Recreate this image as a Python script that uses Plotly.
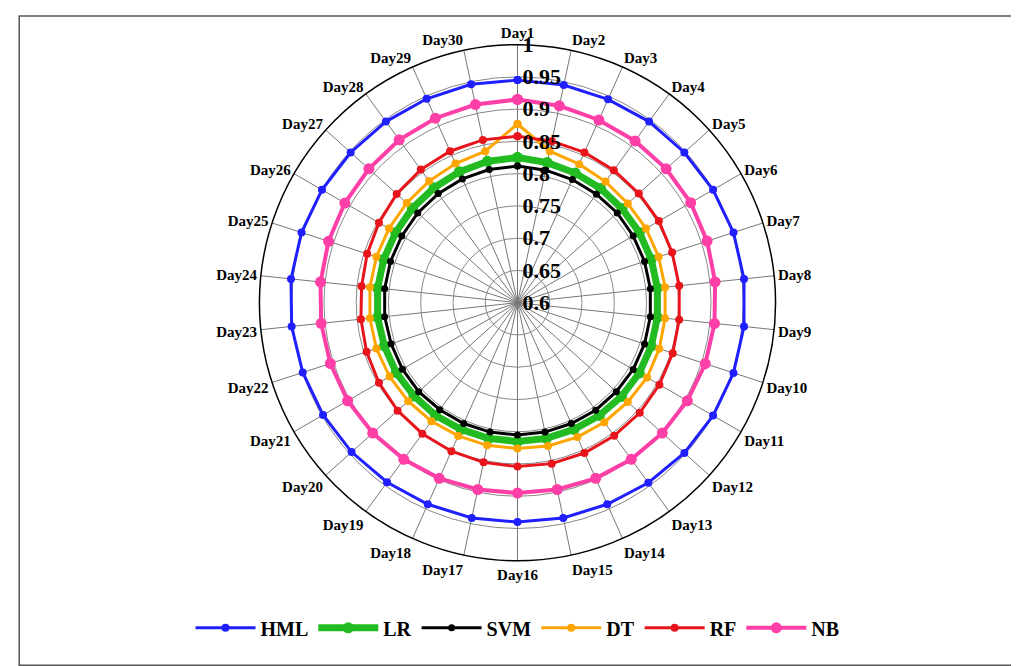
import plotly.graph_objects as go

days = ["Day%d" % i for i in range(1, 31)]

hml = [0.945, 0.945, 0.945, 0.947, 0.948, 0.950, 0.952, 0.953, 0.953, 0.952, 0.950, 0.948, 0.945, 0.942, 0.941, 0.940, 0.941, 0.942, 0.944, 0.946, 0.948, 0.950, 0.952, 0.953, 0.952, 0.950, 0.948, 0.947, 0.946, 0.946]
nb = [0.915, 0.912, 0.910, 0.910, 0.910, 0.910, 0.909, 0.908, 0.907, 0.906, 0.904, 0.902, 0.900, 0.898, 0.896, 0.895, 0.896, 0.898, 0.900, 0.902, 0.904, 0.905, 0.906, 0.907, 0.908, 0.909, 0.910, 0.912, 0.913, 0.914]
rf = [0.858, 0.856, 0.855, 0.854, 0.853, 0.853, 0.852, 0.852, 0.852, 0.853, 0.854, 0.855, 0.855, 0.855, 0.855, 0.854, 0.853, 0.852, 0.851, 0.850, 0.848, 0.846, 0.844, 0.843, 0.845, 0.848, 0.852, 0.855, 0.857, 0.858]
dt = [0.877, 0.840, 0.835, 0.832, 0.830, 0.830, 0.830, 0.830, 0.830, 0.831, 0.832, 0.830, 0.829, 0.828, 0.827, 0.826, 0.826, 0.826, 0.827, 0.828, 0.829, 0.830, 0.830, 0.830, 0.830, 0.830, 0.831, 0.833, 0.836, 0.840]
lr = [0.825, 0.822, 0.820, 0.819, 0.818, 0.818, 0.818, 0.818, 0.818, 0.818, 0.818, 0.817, 0.816, 0.815, 0.815, 0.815, 0.815, 0.815, 0.816, 0.816, 0.817, 0.817, 0.818, 0.818, 0.818, 0.818, 0.819, 0.820, 0.822, 0.824]
svm = [0.812, 0.810, 0.809, 0.808, 0.808, 0.807, 0.807, 0.807, 0.807, 0.807, 0.807, 0.806, 0.806, 0.805, 0.805, 0.805, 0.805, 0.805, 0.805, 0.806, 0.806, 0.806, 0.807, 0.807, 0.807, 0.807, 0.808, 0.809, 0.810, 0.811]
radial_ticks = [0.6, 0.65, 0.7, 0.75, 0.8, 0.85, 0.9, 0.95, 1.0]

series = [
    ("HML", hml, "#1f1fff", 3, 8),
    ("LR", lr, "#22bb22", 7, 11),
    ("SVM", svm, "black", 3, 7),
    ("DT", dt, "orange", 3, 8),
    ("RF", rf, "#e8141c", 3, 8),
    ("NB", nb, "#ff3fa8", 4, 11),
]

fig = go.Figure()
for name, vals, color, width, size in series:
    fig.add_trace(go.Scatterpolar(
        r=vals + vals[:1], theta=days + days[:1], mode="lines+markers", name="<b>%s</b>" % name,
        line=dict(color=color, width=width), marker=dict(color=color, size=size),
    ))

fig.update_layout(
    width=1019, height=666,
    margin=dict(l=0, r=0, t=0, b=0),
    paper_bgcolor="white",
    font=dict(family="Liberation Serif", color="black"),
    polar=dict(
        domain=dict(x=[0.243, 0.757], y=[0.17, 0.945]),
        bgcolor="white",
        angularaxis=dict(direction="clockwise", rotation=90, linecolor="black", linewidth=1.5,
                         gridcolor="#777", ticks="", tickfont=dict(size=15, family="Liberation Serif"),
                         tickvals=list(range(30)), ticktext=["<b>%s</b>" % d for d in days]),
        radialaxis=dict(range=[0.6, 1.0], angle=90, tickangle=90,
                        tickvals=radial_ticks, ticktext=["<b>%g</b>" % v for v in radial_ticks],
                        gridcolor="#888", showline=False,
                        tickfont=dict(size=22, family="Liberation Serif"),
                        ticks="outside", ticklen=0),
    ),
    legend=dict(orientation="h", x=0.5, xanchor="center", y=0.04, yanchor="bottom",
                font=dict(size=20, family="Liberation Serif"), itemwidth=60),
    shapes=[dict(type="rect", xref="paper", yref="paper", x0=0.011, y0=0.013, x1=0.988, y1=0.988,
                 line=dict(color="#555", width=1.5))],
)

fig.write_html("out.html")
